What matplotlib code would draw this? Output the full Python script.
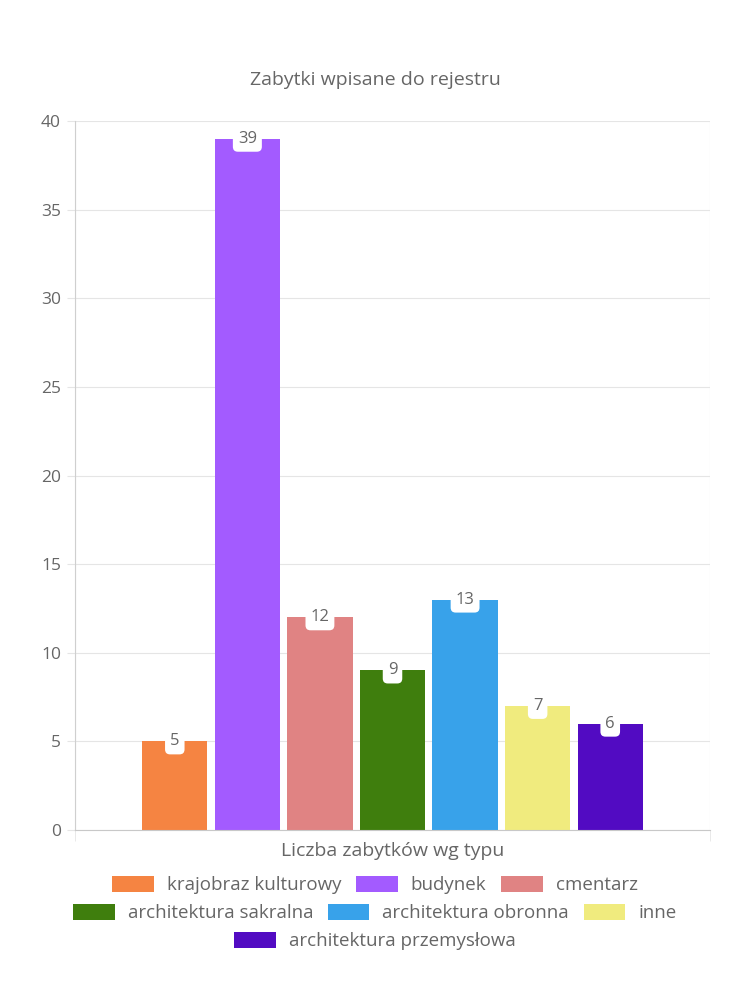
import matplotlib.pyplot as plt
from matplotlib.patches import Patch

plt.rcParams['font.family'] = ['Open Sans', 'DejaVu Sans']

title = "Zabytki wpisane do rejestru"
category = "Liczba zabytków wg typu"
labels = ["krajobraz kulturowy", "budynek", "cmentarz", "architektura sakralna",
          "architektura obronna", "inne", "architektura przemysłowa"]
values = [5, 39, 12, 9, 13, 7, 6]
colors = ["#f58442", "#a35bff", "#e08383", "#3f7e0d", "#38a2ea", "#f0eb7e", "#520bc2"]

txt = "#666666"
grid = "#e5e5e5"

fig = plt.figure(figsize=(7.5, 10), dpi=100)
ax = fig.add_axes([0.1, 0.17, 0.8467, 0.709])

n = len(values)
slot = 0.8 / n
width = slot * 0.9
for i, (v, c) in enumerate(zip(values, colors)):
    x = -0.4 + slot * (i + 0.5)
    ax.bar(x, v, width=width, color=c, zorder=2)
    ax.text(x, v, str(v), ha="center", va="center", fontsize=12, color=txt, zorder=4,
            bbox=dict(boxstyle="round,pad=0.3,rounding_size=0.3", fc="white", ec="none"))

ax.set_xlim(-0.5, 0.5)
ax.set_ylim(0, 40)
ax.set_yticks(range(0, 41, 5))
ax.tick_params(axis="y", colors=grid, labelcolor=txt, labelsize=12.5, length=6, pad=4)
ax.set_xticks([0])
ax.set_xticklabels([category])
ax.tick_params(axis="x", length=0, labelcolor=txt, labelsize=14, pad=9)
ax.set_xticks([-0.5, 0.5], minor=True)
ax.tick_params(axis="x", which="minor", length=8, color=grid)
ax.grid(axis="y", color=grid, lw=0.8, zorder=0)
ax.grid(axis="x", which="minor", color=grid, lw=0.8, zorder=0)
for s in ["top", "right"]:
    ax.spines[s].set_visible(False)
ax.spines["left"].set_color("#cfcfcf")
ax.spines["bottom"].set_color("#c8c8c8")

fig.text(0.5, 0.92, title, ha="center", va="center", fontsize=14, color=txt)

handles = [Patch(facecolor=c, edgecolor="none", label=l) for c, l in zip(colors, labels)]
rows = [handles[0:3], handles[3:6], handles[6:7]]
ys = [0.115, 0.087, 0.059]
for row, y in zip(rows, ys):
    leg = fig.legend(handles=row, loc="center", bbox_to_anchor=(0.5, y), ncol=len(row),
                     frameon=False, fontsize=13.5, labelcolor=txt, handlelength=2.2,
                     handleheight=1.0, handletextpad=0.7, columnspacing=0.8,
                     borderaxespad=0, borderpad=0)

fig.savefig("out.png", dpi=100, facecolor="white")
